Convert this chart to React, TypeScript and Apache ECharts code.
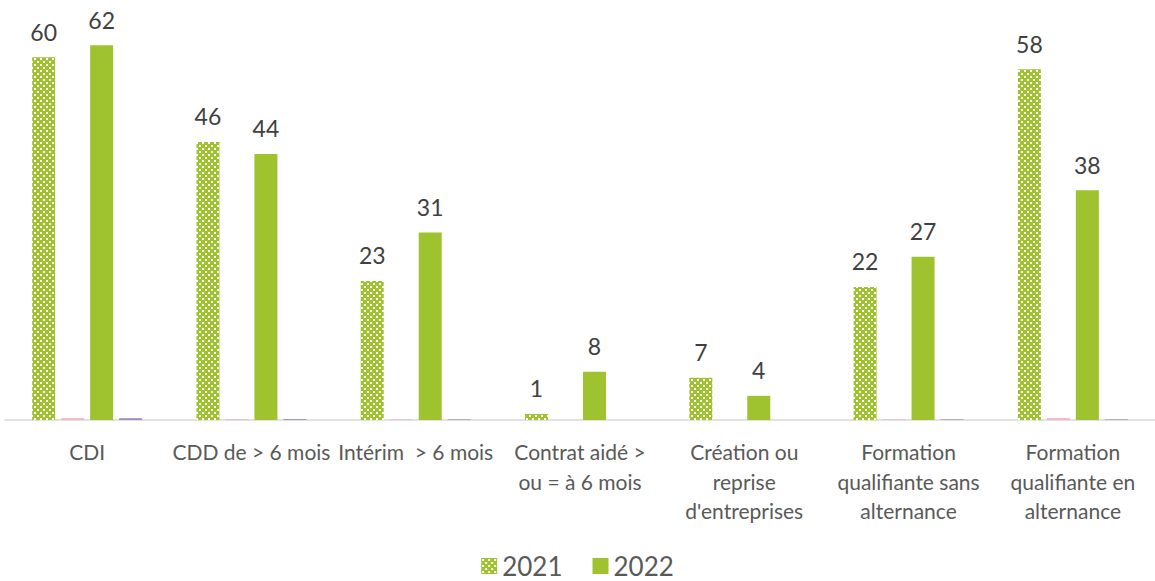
import React, { useEffect, useRef } from "react";
import * as echarts from "echarts";

const categories = [
  "CDI",
  "CDD de > 6 mois",
  "Intérim  > 6 mois",
  "Contrat aidé >\nou = à 6 mois",
  "Création ou\nreprise\nd'entreprises",
  "Formation\nqualifiante sans\nalternance",
  "Formation\nqualifiante en\nalternance",
];
const values2021 = [60, 46, 23, 1, 7, 22, 58];
const valuesPink = [0.3, 0.15, 0.1, 0, 0, 0.1, 0.3];
const values2022 = [62, 44, 31, 8, 4, 27, 38];
const valuesPurple = [0.3, 0.15, 0.1, 0, 0, 0.1, 0.1];

const GREEN = "#9fc32f";

function makePattern(): string {
  const c = document.createElement("canvas");
  c.width = 6;
  c.height = 6;
  const ctx = c.getContext("2d")!;
  ctx.fillStyle = GREEN;
  ctx.fillRect(0, 0, 6, 6);
  ctx.fillStyle = "#ffffff";
  ctx.fillRect(1, 1, 2, 2);
  ctx.fillRect(4, 4, 2, 2);
  return c.toDataURL();
}

export default function App() {
  const ref = useRef<HTMLDivElement>(null);
  useEffect(() => {
    document.body.style.margin = "0";
    const chart = echarts.init(ref.current!, null, { renderer: "svg" });
    const pattern = { image: makePattern(), repeat: "repeat" } as any;
    const font = "Lato, 'Noto Sans', sans-serif";
    const label = {
      show: true,
      position: "top",
      distance: 14,
      fontSize: 23,
      color: "#404040",
      fontFamily: font,
    };
    chart.setOption({
      animation: false,
      textStyle: { fontFamily: font },
      grid: { left: 5, right: 0, top: 27, bottom: 161 },
      legend: {
        data: ["2021", "2022"],
        top: 552,
        left: "center",
        padding: 0,
        itemWidth: 16,
        itemHeight: 16,
        itemGap: 30,
        icon: "rect",
        textStyle: { fontSize: 26, lineHeight: 28, color: "#595959", fontFamily: font },
      },
      xAxis: {
        type: "category",
        data: categories,
        axisLine: { lineStyle: { color: "#d9d9d9", width: 1.5 } },
        axisTick: { show: false },
        axisLabel: {
          interval: 0,
          fontSize: 21,
          lineHeight: 29.5,
          color: "#595959",
          margin: 17,
          fontFamily: font,
        },
      },
      yAxis: {
        type: "value",
        min: 0,
        max: 65,
        show: false,
        splitLine: { show: false },
      },
      series: [
        {
          name: "2021",
          type: "bar",
          data: values2021,
          barWidth: 23,
          barGap: "26%",
          itemStyle: { color: pattern },
          label,
        },
        {
          name: "p",
          type: "bar",
          data: valuesPink,
          barWidth: 23,
          barGap: "26%",
          itemStyle: { color: "#f2b6bd" },
        },
        {
          name: "2022",
          type: "bar",
          data: values2022,
          barWidth: 23,
          barGap: "26%",
          itemStyle: { color: GREEN },
          label,
        },
        {
          name: "q",
          type: "bar",
          data: valuesPurple,
          barWidth: 23,
          barGap: "26%",
          itemStyle: { color: "#a08cc4" },
        },
      ],
    });
    return () => chart.dispose();
  }, []);
  return <div ref={ref} style={{ width: 1155, height: 581 }} />;
}
